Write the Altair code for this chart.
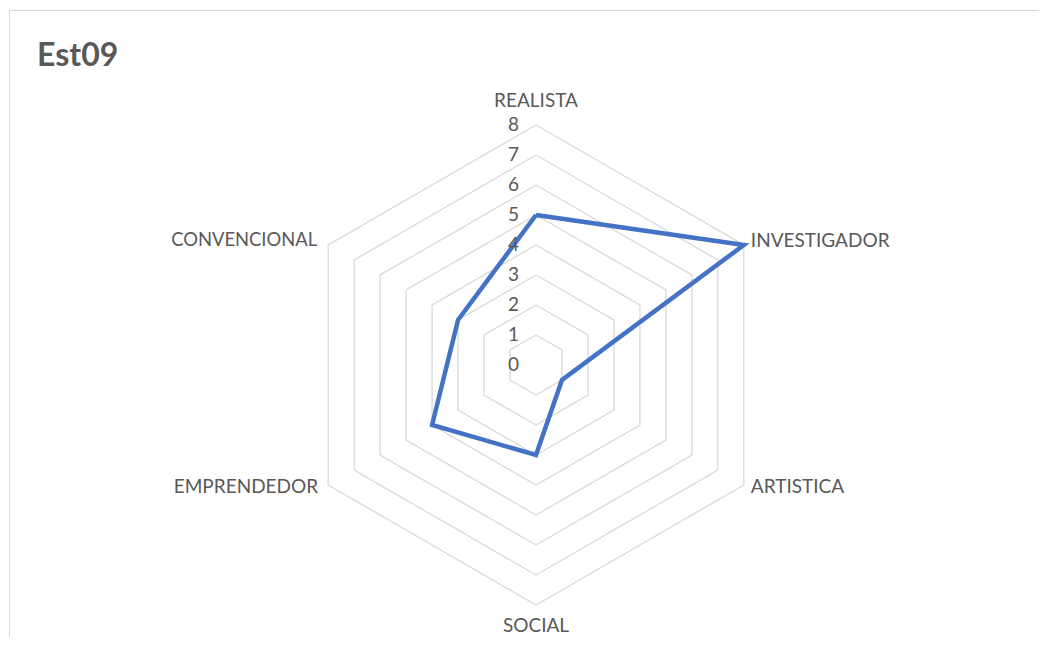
import altair as alt
import pandas as pd

# ---- data ----
categories = ["REALISTA", "INVESTIGADOR", "ARTISTICA", "SOCIAL", "EMPRENDEDOR", "CONVENCIONAL"]
values = [5, 8, 1, 3, 4, 3]
levels = [1, 2, 3, 4, 5, 6, 7, 8]
tick_labels = [0, 1, 2, 3, 4, 5, 6, 7, 8]
title_text = "Est09"

# ---- layout ----
W, H = 1031, 629
CX, CY = 528, 357          # centre of the radar in view pixels
PX = 30.0                  # pixels per unit
RMAX = 8
n = len(categories)

xdom = [-CX / PX, (W - CX) / PX]
ydom = [-(H - CY) / PX, CY / PX]
xs = alt.Scale(domain=xdom, nice=False, zero=False)
ys = alt.Scale(domain=ydom, nice=False, zero=False)

TEXT = "#595959"
GRID = "#d9d9d9"
LINE = "#4472C4"
FONT = "Lato"

def xy(chart):
    return chart.transform_calculate(
        ang="datum.k * 2 * PI / %d" % n
    ).transform_calculate(
        px="datum.r * sin(datum.ang)",
        py="datum.r * cos(datum.ang)",
    )

# grid hexagons
grid_rows = [{"level": lv, "k": k, "r": lv} for lv in levels for k in range(n + 1)]
grid = xy(alt.Chart(pd.DataFrame(grid_rows))).mark_line(
    color=GRID, strokeWidth=1.3
).encode(
    x=alt.X("px:Q", scale=xs, axis=None),
    y=alt.Y("py:Q", scale=ys, axis=None),
    detail="level:N",
    order="k:Q",
)

# series
ser_rows = [{"k": k, "r": values[k % n]} for k in range(n + 1)]
series = xy(alt.Chart(pd.DataFrame(ser_rows))).mark_line(
    color=LINE, strokeWidth=4.5, strokeJoin="miter"
).encode(
    x=alt.X("px:Q", scale=xs, axis=None),
    y=alt.Y("py:Q", scale=ys, axis=None),
    order="k:Q",
)

# radial tick labels
ticks = alt.Chart(pd.DataFrame({"t": tick_labels, "z": [0] * len(tick_labels)})).mark_text(
    align="right", baseline="middle", dx=-17, fontSize=19, font=FONT, color=TEXT
).encode(
    x=alt.X("z:Q", scale=xs, axis=None),
    y=alt.Y("t:Q", scale=ys, axis=None),
    text="t:N",
)

# category labels
cat_df = pd.DataFrame({"cat": categories, "k": list(range(n)), "r": [RMAX] * n})
cat_base = xy(alt.Chart(cat_df))
enc = dict(
    x=alt.X("px:Q", scale=xs, axis=None),
    y=alt.Y("py:Q", scale=ys, axis=None),
    text="cat:N",
)
tstyle = dict(fontSize=19, font=FONT, color=TEXT, baseline="middle")
lab_top = cat_base.transform_filter("datum.k == 0").mark_text(align="center", dy=-24, **tstyle).encode(**enc)
lab_bot = cat_base.transform_filter("datum.k == 3").mark_text(align="center", dy=21, **tstyle).encode(**enc)
lab_rt = cat_base.transform_filter("datum.k == 1").mark_text(align="left", dx=7, dy=-4, **tstyle).encode(**enc)
lab_rb = cat_base.transform_filter("datum.k == 2").mark_text(align="left", dx=7, dy=2, **tstyle).encode(**enc)
lab_lb = cat_base.transform_filter("datum.k == 4").mark_text(align="right", dx=-10, dy=2, **tstyle).encode(**enc)
lab_lt = cat_base.transform_filter("datum.k == 5").mark_text(
    align="right", dx=-11, dy=-5, fontSize=18.4, font=FONT, color=TEXT, baseline="middle").encode(**enc)

# chart-area frame (left and top edges; right/bottom lie outside the window)
frame_top = alt.Chart(pd.DataFrame({"a": [0]})).mark_rule(color=GRID, strokeWidth=1).encode(
    x=alt.value(1), x2=alt.value(W), y=alt.value(2.5)
)
frame_left = alt.Chart(pd.DataFrame({"a": [0]})).mark_rule(color=GRID, strokeWidth=1).encode(
    x=alt.value(1.5), y=alt.value(2), y2=alt.value(H)
)

title = alt.Chart(pd.DataFrame({"t": [title_text]})).mark_text(
    align="left", baseline="alphabetic", fontSize=32, fontWeight="bold", font=FONT, color=TEXT
).encode(x=alt.value(29), y=alt.value(58), text="t:N")

chart = alt.layer(
    frame_top, frame_left, grid, series, ticks, lab_top, lab_bot, lab_rt, lab_rb, lab_lb, lab_lt, title
).properties(
    width=W, height=H, padding=0, autosize=alt.AutoSizeParams(type="none")
).configure_view(stroke=None, strokeWidth=0)

chart.save("out.html", embed_options={"renderer": "svg", "actions": False})
